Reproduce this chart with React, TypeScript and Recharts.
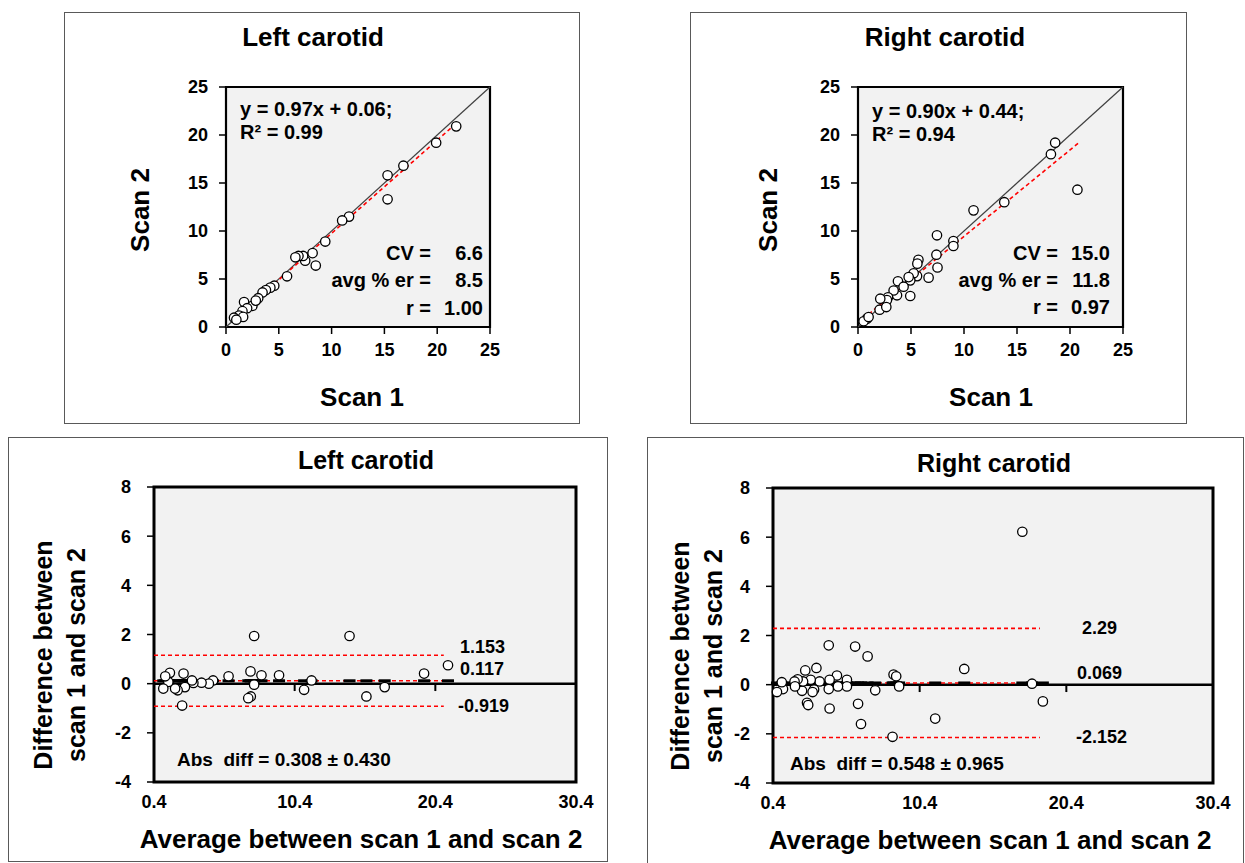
import React from 'react';
import { ScatterChart, Scatter, XAxis, YAxis, CartesianGrid, ReferenceLine, ReferenceArea } from 'recharts';

const FONT = '"Liberation Sans", Arial, sans-serif';

// Scan 1 vs scan 2 (top row)
const LEFT_SCAN1 = [21.8, 19.9, 16.8, 15.3, 15.3, 11.65, 11.0, 9.4, 8.2, 8.5, 7.5, 7.3, 6.86, 6.57, 5.78, 4.57, 4.2, 3.78, 3.46, 3.05, 2.5, 1.71, 2.0, 1.56, 1.24, 0.76, 1.62, 0.98, 2.82];
const LEFT_SCAN2 = [20.9, 19.2, 16.8, 15.8, 13.3, 11.5, 11.1, 8.9, 7.7, 6.4, 6.9, 7.4, 7.4, 7.26, 5.28, 4.3, 4.1, 3.85, 3.6, 3.0, 2.2, 2.6, 1.96, 1.65, 1.2, 0.97, 1.05, 0.76, 2.75];
const RIGHT_SCAN1 = [18.6, 18.2, 20.7, 13.8, 10.9, 7.45, 9.0, 9.0, 7.4, 7.5, 5.7, 5.6, 6.66, 5.57, 5.25, 4.93, 4.93, 4.78, 3.77, 3.68, 3.36, 2.83, 2.73, 2.1, 2.04, 2.67, 4.3, 0.85, 0.53, 1.0];
const RIGHT_SCAN2 = [19.2, 18.0, 14.3, 13.0, 12.15, 9.55, 8.96, 8.44, 7.53, 6.2, 7.0, 6.6, 5.14, 5.3, 5.6, 4.86, 3.23, 5.2, 4.76, 3.3, 3.8, 3.1, 2.8, 2.95, 1.8, 2.08, 4.2, 0.87, 0.6, 1.04];

// Bland-Altman: average vs difference (bottom row)
const LEFT_AVG = [7.52, 14.3, 21.3, 19.6, 16.8, 15.5, 11.6, 11.07, 9.29, 8.04, 7.26, 7.52, 7.28, 7.1, 5.7, 4.6, 4.3, 3.78, 3.2, 3.1, 2.6, 2.5, 2.4, 2.08, 1.9, 1.53, 1.42, 1.2, 1.06];
const LEFT_DIFF = [1.94, 1.94, 0.75, 0.41, -0.14, -0.52, 0.13, -0.25, 0.34, 0.34, 0.5, -0.04, -0.52, -0.59, 0.3, 0.13, 0, 0.04, 0.03, 0.13, -0.14, 0.41, -0.89, -0.27, -0.2, 0.44, 0.07, 0.3, -0.2];
const RIGHT_AVG = [17.4, 18.06, 18.8, 13.44, 11.46, 8.55, 8.62, 8.8, 9.0, 7.37, 6.85, 6.0, 6.2, 6.4, 5.44, 5.44, 4.83, 4.76, 4.26, 4.2, 4.2, 4.26, 3.58, 3.36, 3.2, 3.1, 2.97, 2.72, 2.8, 2.6, 2.38, 2.45, 2.08, 1.87, 1.9, 1.08, 1.0, 0.67];
const RIGHT_DIFF = [6.22, 0.04, -0.68, 0.64, -1.38, -2.12, 0.41, 0.34, -0.07, -0.23, 1.15, 1.55, -0.78, -1.6, 0.2, -0.07, -0.07, 0.37, 0.2, 1.6, -0.18, -0.97, 0.13, 0.68, -0.2, -0.3, 0.2, -0.74, -0.83, 0.58, -0.25, 0.13, 0.22, 0.13, -0.07, -0.18, 0.1, -0.3];

// upper limit, mean, lower limit
const LEFT_LIMITS = [1.153, 0.117, -0.919];
const RIGHT_LIMITS = [2.29, 0.069, -2.152];

const SCAN_TICKS = [0, 5, 10, 15, 20, 25];
const AVG_TICKS = [0.4, 10.4, 20.4, 30.4];
const DIFF_TICKS = [-4, -2, 0, 2, 4, 6, 8];

const LEFT_FIT = { slope: 0.97, icpt: 0.06, from: 0.6, to: 21.3 };
const RIGHT_FIT = { slope: 0.9, icpt: 0.44, from: 0.5, to: 20.8 };

const tickStyle = { fill: '#000', fontSize: 18, fontWeight: 'bold', fontFamily: FONT };

const Ring = (p: any) => <circle cx={p.cx} cy={p.cy} r={4.7} fill="#fff" stroke="#000" strokeWidth={1.3} />;
const Dash = (p: any) => <rect x={p.cx - 6} y={p.cy - 1.5} width={12} height={3} fill="#000" />;

type TxtProps = { x: number; y: number; size: number; align?: 'left' | 'center' | 'right'; rotate?: boolean; children: React.ReactNode };
const Txt = ({ x, y, size, align = 'left', rotate, children }: TxtProps) => {
  const tx = align === 'left' ? '0' : align === 'center' ? '-50%' : '-100%';
  return (
    <div
      style={{
        position: 'absolute', left: x, top: y, fontFamily: FONT, fontWeight: 'bold', fontSize: size,
        lineHeight: 1, whiteSpace: 'pre', color: '#000',
        transform: `translate(${tx}, -50%)${rotate ? ' rotate(-90deg)' : ''}`,
      }}
    >
      {children}
    </div>
  );
};

const Panel = ({ left, top, width, height }: any) => (
  <div style={{ position: 'absolute', left, top, width, height, border: '1px solid #595959', boxSizing: 'border-box' }} />
);

function ScanPlot({ left, top, width, height, margin, xs, ys, fit }: any) {
  const data = xs.map((x: number, i: number) => ({ x, y: ys[i] }));
  const y0 = fit.slope * fit.from + fit.icpt;
  const y1 = fit.slope * fit.to + fit.icpt;
  return (
    <div style={{ position: 'absolute', left, top }}>
      <ScatterChart width={width} height={height} margin={margin}>
        <CartesianGrid fill="#f2f2f2" horizontal={false} vertical={false} />
        <XAxis type="number" dataKey="x" domain={[0, 25]} ticks={SCAN_TICKS} interval={0} height={40}
          axisLine={false} tickLine={{ stroke: '#000', strokeWidth: 1.5 }} tickSize={7} tickMargin={9} tick={tickStyle} />
        <YAxis type="number" dataKey="y" domain={[0, 25]} ticks={SCAN_TICKS} interval={0} width={60}
          axisLine={false} tickLine={{ stroke: '#000', strokeWidth: 1.5 }} tickSize={7} tickMargin={11} tick={tickStyle} />
        <ReferenceLine segment={[{ x: 0, y: 0 }, { x: 25, y: 25 }]} stroke="#404040" strokeWidth={1.2} />
        <ReferenceLine segment={[{ x: fit.from, y: y0 }, { x: fit.to, y: y1 }]} stroke="#ff0000" strokeWidth={1.6} strokeDasharray="4 3" />
        <Scatter data={data} shape={Ring} isAnimationActive={false} />
        <ReferenceArea x1={0} x2={25} y1={0} y2={25} fill="none" stroke="#000" strokeWidth={2.2} />
      </ScatterChart>
    </div>
  );
}

function DiffPlot({ left, top, width, height, margin, xs, ys, limits, lineTo }: any) {
  const data = xs.map((x: number, i: number) => ({ x, y: ys[i] }));
  const meanData = xs.map((x: number) => ({ x, y: limits[1] }));
  return (
    <div style={{ position: 'absolute', left, top }}>
      <ScatterChart width={width} height={height} margin={margin}>
        <CartesianGrid fill="#f2f2f2" horizontal={false} vertical={false} />
        <XAxis type="number" dataKey="x" domain={[0.4, 30.4]} ticks={AVG_TICKS} interval={0} height={40}
          axisLine={false} tickLine={false} tickSize={0} tickMargin={13} tick={tickStyle} />
        <YAxis type="number" dataKey="y" domain={[-4, 8]} ticks={DIFF_TICKS} interval={0} width={60}
          axisLine={false} tickLine={{ stroke: '#000', strokeWidth: 1.5 }} tickSize={7} tickMargin={16} tick={tickStyle} />
        <ReferenceLine y={0} stroke="#000" strokeWidth={2.5} />
        {AVG_TICKS.slice(1, 3).map((t) => (
          <ReferenceLine key={t} segment={[{ x: t, y: 0 }, { x: t, y: -0.3 }]} stroke="#000" strokeWidth={2} />
        ))}
        {limits.map((v: number) => (
          <ReferenceLine key={v} segment={[{ x: 0.4, y: v }, { x: lineTo, y: v }]} stroke="#ff0000" strokeWidth={1.6} strokeDasharray="4 3" />
        ))}
        <Scatter data={meanData} shape={Dash} isAnimationActive={false} />
        <Scatter data={data} shape={Ring} isAnimationActive={false} />
        <ReferenceArea x1={0.4} x2={30.4} y1={-4} y2={8} fill="none" stroke="#000" strokeWidth={3} />
      </ScatterChart>
    </div>
  );
}

export default function App() {
  return (
    <div style={{ position: 'absolute', left: 0, top: 0, width: 1245, height: 863, background: '#fff', overflow: 'hidden' }}>
      <Panel left={64} top={12} width={516} height={412} />
      <Panel left={690} top={12} width={497} height={412} />
      <Panel left={8} top={437} width={600} height={425} />
      <Panel left={647} top={437} width={597} height={428} />

      <ScanPlot left={64} top={12} width={516} height={412} margin={{ top: 75, right: 90, bottom: 57, left: 102 }}
        xs={LEFT_SCAN1} ys={LEFT_SCAN2} fit={LEFT_FIT} />
      <ScanPlot left={690} top={12} width={497} height={412} margin={{ top: 75, right: 64, bottom: 57, left: 108 }}
        xs={RIGHT_SCAN1} ys={RIGHT_SCAN2} fit={RIGHT_FIT} />
      <DiffPlot left={8} top={437} width={600} height={425} margin={{ top: 50, right: 32, bottom: 40, left: 86 }}
        xs={LEFT_AVG} ys={LEFT_DIFF} limits={LEFT_LIMITS} lineTo={21.0} />
      <DiffPlot left={647} top={437} width={597} height={426} margin={{ top: 51, right: 31, bottom: 40, left: 66 }}
        xs={RIGHT_AVG} ys={RIGHT_DIFF} limits={RIGHT_LIMITS} lineTo={18.6} />

      {/* top-left */}
      <Txt x={313} y={37} size={26} align="center">Left carotid</Txt>
      <Txt x={140} y={210} size={26} align="center" rotate>Scan 2</Txt>
      <Txt x={362} y={397} size={26} align="center">Scan 1</Txt>
      <Txt x={240} y={109} size={20}>y = 0.97x + 0.06;</Txt>
      <Txt x={240} y={132} size={20}>R² = 0.99</Txt>
      <Txt x={431} y={253} size={20} align="right">CV =</Txt>
      <Txt x={483} y={253} size={20} align="right">6.6</Txt>
      <Txt x={431} y={280} size={20} align="right">avg % er =</Txt>
      <Txt x={483} y={280} size={20} align="right">8.5</Txt>
      <Txt x={431} y={308} size={20} align="right">r =</Txt>
      <Txt x={483} y={308} size={20} align="right">1.00</Txt>

      {/* top-right */}
      <Txt x={945} y={37} size={26} align="center">Right carotid</Txt>
      <Txt x={768} y={210} size={26} align="center" rotate>Scan 2</Txt>
      <Txt x={991} y={397} size={26} align="center">Scan 1</Txt>
      <Txt x={872} y={111} size={20}>y = 0.90x + 0.44;</Txt>
      <Txt x={872} y={134} size={20}>R² = 0.94</Txt>
      <Txt x={1058} y={253} size={20} align="right">CV =</Txt>
      <Txt x={1110} y={253} size={20} align="right">15.0</Txt>
      <Txt x={1058} y={280} size={20} align="right">avg % er =</Txt>
      <Txt x={1110} y={280} size={20} align="right">11.8</Txt>
      <Txt x={1058} y={307} size={20} align="right">r =</Txt>
      <Txt x={1110} y={307} size={20} align="right">0.97</Txt>

      {/* bottom-left */}
      <Txt x={366} y={460} size={25} align="center">Left carotid</Txt>
      <Txt x={43} y={655} size={25} align="center" rotate>Difference between</Txt>
      <Txt x={76} y={655} size={25} align="center" rotate>scan 1 and scan 2</Txt>
      <Txt x={361} y={839} size={26} align="center">Average between scan 1 and scan 2</Txt>
      <Txt x={460} y={647} size={18}>1.153</Txt>
      <Txt x={460} y={669} size={18}>0.117</Txt>
      <Txt x={458} y={706} size={18}>-0.919</Txt>
      <Txt x={177} y={759} size={19}>Abs  diff = 0.308 ± 0.430</Txt>

      {/* bottom-right */}
      <Txt x={994} y={463} size={25} align="center">Right carotid</Txt>
      <Txt x={680} y={656} size={25} align="center" rotate>Difference between</Txt>
      <Txt x={713} y={656} size={25} align="center" rotate>scan 1 and scan 2</Txt>
      <Txt x={990} y={840} size={26} align="center">Average between scan 1 and scan 2</Txt>
      <Txt x={1082} y={628} size={18}>2.29</Txt>
      <Txt x={1077} y={673} size={18}>0.069</Txt>
      <Txt x={1076} y={737} size={18}>-2.152</Txt>
      <Txt x={790} y={763} size={19}>Abs  diff = 0.548 ± 0.965</Txt>
    </div>
  );
}
